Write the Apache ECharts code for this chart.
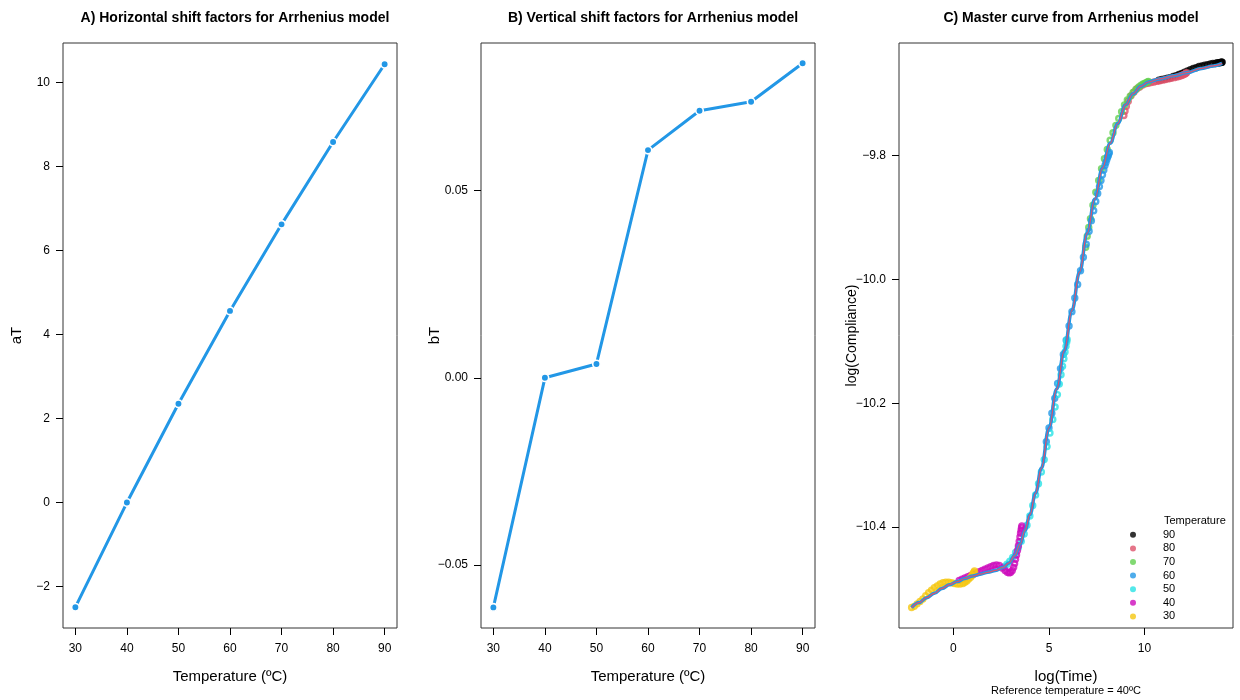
<!DOCTYPE html>
<html><head><meta charset="utf-8">
<script src="https://cdn.jsdelivr.net/npm/echarts@6/dist/echarts.min.js"></script>
<style>html,body{margin:0;padding:0;background:#fff}#c{width:1240px;height:700px}</style>
</head><body><div id="c"></div>
<script>
// ---- data ----
const temperatures = [30, 40, 50, 60, 70, 80, 90];
const aT = [-2.49, 0, 2.35, 4.56, 6.62, 8.58, 10.43];
const bT = [-0.0613, 0, 0.0037, 0.0608, 0.0713, 0.0737, 0.0840];

const tempTicks = [30, 40, 50, 60, 70, 80, 90];
const aTicks = [-2, 0, 2, 4, 6, 8, 10];
const bTicks = [-0.05, 0, 0.05];
const timeTicks = [0, 5, 10];
const compTicks = [-10.4, -10.2, -10.0, -9.8];

const legendNames = ['90', '80', '70', '60', '50', '40', '30'];

const lt30 = [-2.19,-2.05,-1.9,-1.75,-1.6,-1.45,-1.3,-1.15,-1.0,-0.85,-0.7,-0.55,-0.4,-0.25,-0.1,0.05,0.2,0.35,0.5,0.6,0.7,0.8,0.9,0.97,1.03,1.07,1.1];
const lc30 = [-10.530,-10.528,-10.524,-10.520,-10.516,-10.511,-10.506,-10.502,-10.498,-10.495,-10.492,-10.490,-10.489,-10.489,-10.490,-10.491,-10.492,-10.492,-10.491,-10.489,-10.487,-10.484,-10.481,-10.478,-10.475,-10.473,-10.471];

const lt40 = [0.30,0.45,0.6,0.75,0.9,1.05,1.2,1.35,1.5,1.65,1.8,1.95,2.1,2.25,2.4,2.55,2.7,2.82,2.92,3.0,3.08,3.15,3.2,3.25,3.3,3.35,3.4,3.44,3.48,3.51,3.54,3.56,3.58];
const lc40 = [-10.486,-10.484,-10.482,-10.480,-10.478,-10.476,-10.474,-10.472,-10.470,-10.468,-10.466,-10.464,-10.462,-10.461,-10.462,-10.466,-10.470,-10.473,-10.474,-10.473,-10.470,-10.465,-10.459,-10.452,-10.445,-10.438,-10.430,-10.423,-10.416,-10.410,-10.405,-10.401,-10.398];

const lt50 = [2.65,2.8,2.95,3.1,3.25,3.4,3.55,3.7,3.85,4.0,4.15,4.3,4.45,4.6,4.75,4.9,5.05,5.2,5.32,5.44,5.54,5.63,5.71,5.78,5.84,5.89,5.93,5.95];
const lc50 = [-10.464,-10.460,-10.455,-10.449,-10.441,-10.433,-10.423,-10.411,-10.397,-10.382,-10.365,-10.348,-10.330,-10.311,-10.291,-10.270,-10.248,-10.226,-10.206,-10.186,-10.169,-10.154,-10.140,-10.128,-10.117,-10.108,-10.101,-10.097];

const lt60 = [4.86,5.0,5.15,5.3,5.45,5.6,5.75,5.9,6.05,6.2,6.35,6.5,6.65,6.8,6.95,7.1,7.22,7.34,7.45,7.55,7.64,7.72,7.8,7.87,7.93,7.98,8.03,8.07,8.1,8.13,8.16];
const lc60 = [-10.262,-10.240,-10.216,-10.192,-10.168,-10.144,-10.121,-10.098,-10.075,-10.052,-10.030,-10.008,-9.986,-9.964,-9.943,-9.922,-9.905,-9.889,-9.874,-9.861,-9.850,-9.840,-9.831,-9.823,-9.816,-9.811,-9.806,-9.802,-9.800,-9.797,-9.795];

const lt70 = [6.92,7.0,7.08,7.17,7.3,7.45,7.6,7.75,7.9,8.05,8.2,8.35,8.5,8.65,8.8,8.95,9.1,9.25,9.4,9.55,9.7,9.82,9.93,10.02,10.1,10.16,10.2];
const lc70 = [-9.948,-9.930,-9.916,-9.902,-9.880,-9.859,-9.840,-9.821,-9.805,-9.790,-9.775,-9.763,-9.751,-9.740,-9.729,-9.718,-9.710,-9.704,-9.698,-9.693,-9.689,-9.686,-9.684,-9.683,-9.682,-9.681,-9.680];

const lt80 = [8.92,8.98,9.05,9.15,9.3,9.45,9.6,9.75,9.9,10.05,10.2,10.35,10.5,10.65,10.8,10.95,11.1,11.25,11.4,11.55,11.68,11.8,11.9,11.98,12.05,12.11,12.16,12.2];
const lc80 = [-9.735,-9.728,-9.720,-9.712,-9.703,-9.697,-9.692,-9.689,-9.686,-9.684,-9.683,-9.682,-9.681,-9.680,-9.679,-9.678,-9.677,-9.676,-9.675,-9.674,-9.673,-9.672,-9.671,-9.670,-9.669,-9.668,-9.667,-9.666];

const lt90 = [10.75,10.9,11.05,11.2,11.35,11.5,11.65,11.8,11.95,12.1,12.25,12.4,12.55,12.7,12.85,13.0,13.15,13.3,13.45,13.58,13.7,13.8,13.88,13.95,14.0,14.04,14.06];
const lc90 = [-9.678,-9.677,-9.676,-9.675,-9.674,-9.672,-9.671,-9.669,-9.667,-9.665,-9.663,-9.661,-9.659,-9.658,-9.656,-9.655,-9.654,-9.653,-9.652,-9.651,-9.651,-9.650,-9.650,-9.650,-9.649,-9.649,-9.649];

const fitX = [-2.19,-1.8,-1.4,-1.0,-0.6,-0.2,0.2,0.6,1.0,1.4,1.8,2.2,2.6,2.9,3.2,3.5,3.75,4.0,4.3,4.6,5.0,5.4,5.8,6.2,6.6,7.0,7.4,7.8,8.2,8.6,9.0,9.4,9.8,10.2,10.8,11.5,12.2,13.0,13.6,14.06];
const fitY = [-10.530,-10.522,-10.514,-10.507,-10.499,-10.493,-10.488,-10.483,-10.479,-10.476,-10.473,-10.470,-10.465,-10.458,-10.446,-10.427,-10.405,-10.380,-10.345,-10.305,-10.240,-10.177,-10.115,-10.050,-9.988,-9.925,-9.870,-9.820,-9.780,-9.748,-9.718,-9.700,-9.688,-9.681,-9.676,-9.671,-9.666,-9.659,-9.655,-9.651];

// ---- chart ----
const zip = (a, b) => a.map((v, i) => [v, b[i]]);
const FONT = '"Liberation Sans", Arial, Helvetica, sans-serif';
const BLUE = '#2297E6';
const tempCols = { '90': '#000000', '80': '#DF536B', '70': '#61D04F', '60': '#2297E6', '50': '#28E2E5', '40': '#CD0BBC', '30': '#F5C710' };
const tempData = { '90': [lt90, lc90], '80': [lt80, lc80], '70': [lt70, lc70], '60': [lt60, lc60], '50': [lt50, lc50], '40': [lt40, lc40], '30': [lt30, lc30] };
const minus = s => s.replace('-', '\u2212');

const gridCommon = { top: 43, height: 585, width: 334, show: true, borderColor: '#333', borderWidth: 1, backgroundColor: 'transparent' };

function xAx(idx, min, max, ticks, name) {
  return {
    gridIndex: idx, type: 'value', min: min, max: max,
    axisLine: { show: false, onZero: false }, splitLine: { show: false },
    axisTick: { show: true, length: 7, customValues: ticks, lineStyle: { color: '#000' } },
    axisLabel: { customValues: ticks, fontSize: 12, color: '#000', margin: 15, fontFamily: FONT,
      formatter: v => minus(String(v)) },
    name: name, nameLocation: 'middle', nameGap: 41, nameMoveOverlap: false,
    nameTextStyle: { fontSize: 15, color: '#000', fontFamily: FONT }
  };
}
function yAx(idx, min, max, ticks, name, dec, nameSize, gap) {
  return {
    gridIndex: idx, type: 'value', min: min, max: max,
    axisLine: { show: false, onZero: false }, splitLine: { show: false },
    axisTick: { show: true, length: 7, customValues: ticks, lineStyle: { color: '#000' } },
    axisLabel: { customValues: ticks, fontSize: 12, color: '#000', margin: 13, fontFamily: FONT,
      formatter: v => minus(dec === 0 ? String(Math.round(v)) : v.toFixed(dec)) },
    name: name, nameLocation: 'middle', nameGap: gap, nameMoveOverlap: false,
    nameTextStyle: { fontSize: nameSize, color: '#000', fontFamily: FONT }
  };
}

const series = [];
series.push({
  type: 'line', xAxisIndex: 0, yAxisIndex: 0, data: zip(temperatures, aT),
  symbol: 'circle', symbolSize: 7.5,
  itemStyle: { color: BLUE, borderColor: '#fff', borderWidth: 1.6 },
  lineStyle: { color: BLUE, width: 3 }
});
series.push({
  type: 'line', xAxisIndex: 1, yAxisIndex: 1, data: zip(temperatures, bT),
  symbol: 'circle', symbolSize: 7.5,
  itemStyle: { color: BLUE, borderColor: '#fff', borderWidth: 1.6 },
  lineStyle: { color: BLUE, width: 3 }
});
legendNames.forEach(n => {
  series.push({
    type: 'scatter', name: n, xAxisIndex: 2, yAxisIndex: 2,
    data: zip(tempData[n][0], tempData[n][1]),
    symbol: 'circle', symbolSize: 5,
    itemStyle: { color: 'rgba(0,0,0,0)', borderColor: tempCols[n], borderWidth: 2.4 }
  });
});
series.push({
  type: 'line', xAxisIndex: 2, yAxisIndex: 2, data: zip(fitX, fitY),
  symbol: 'none', smooth: 0.4, smoothMonotone: 'x',
  lineStyle: { color: BLUE, width: 3.5 }
});
series.push({
  type: 'line', xAxisIndex: 2, yAxisIndex: 2, data: zip(fitX, fitY),
  symbol: 'none', smooth: 0.4, smoothMonotone: 'x',
  lineStyle: { color: '#DF536B', width: 1.2 }
});

const titleStyle = { fontSize: 14, fontWeight: 'bold', color: '#000', fontFamily: FONT };
const option = {
  animation: false,
  backgroundColor: '#fff',
  textStyle: { fontFamily: FONT },
  title: [
    { text: 'A) Horizontal shift factors for Arrhenius model', left: 230, textAlign: 'center', top: 6, textStyle: titleStyle },
    { text: 'B) Vertical shift factors for Arrhenius model', left: 648, textAlign: 'center', top: 6, textStyle: titleStyle },
    { text: 'C) Master curve from Arrhenius model', left: 1066, textAlign: 'center', top: 6, textStyle: titleStyle }
  ],
  grid: [
    Object.assign({ left: 63 }, gridCommon),
    Object.assign({ left: 481 }, gridCommon),
    Object.assign({ left: 899 }, gridCommon)
  ],
  xAxis: [
    xAx(0, 27.6, 92.4, tempTicks, 'Temperature (ºC)'),
    xAx(1, 27.6, 92.4, tempTicks, 'Temperature (ºC)'),
    xAx(2, -2.85, 14.63, timeTicks, 'log(Time)')
  ],
  yAxis: [
    yAx(0, -2.985, 10.935, aTicks, 'aT', 0, 15, 39),
    yAx(1, -0.0668, 0.0894, bTicks, 'bT', 2, 15, 39),
    yAx(2, -10.563, -9.618, compTicks, 'log(Compliance)', 1, 14, 40)
  ],
  legend: {
    orient: 'vertical', left: 1125, top: 523, icon: 'circle',
    itemWidth: 6, itemHeight: 6, itemGap: 0, selectedMode: false,
    textStyle: { fontSize: 11, color: '#000', lineHeight: 13.6, padding: [0, 0, 0, 22], fontFamily: FONT },
    data: legendNames.map(n => ({ name: n, itemStyle: { color: tempCols[n], borderWidth: 0 } }))
  },
  graphic: [
    { type: 'text', x: 1164, y: 521, style: { text: 'Temperature', fill: '#000', font: '11px ' + FONT, align: 'left', verticalAlign: 'middle' } },
    { type: 'text', x: 1066, y: 691, style: { text: 'Reference temperature = 40ºC', fill: '#000', font: '11px ' + FONT, align: 'center', verticalAlign: 'middle' } }
  ],
  series: series
};

const chart = echarts.init(document.getElementById('c'), null, { renderer: 'canvas' });
chart.setOption(option);
</script>
</body></html>
